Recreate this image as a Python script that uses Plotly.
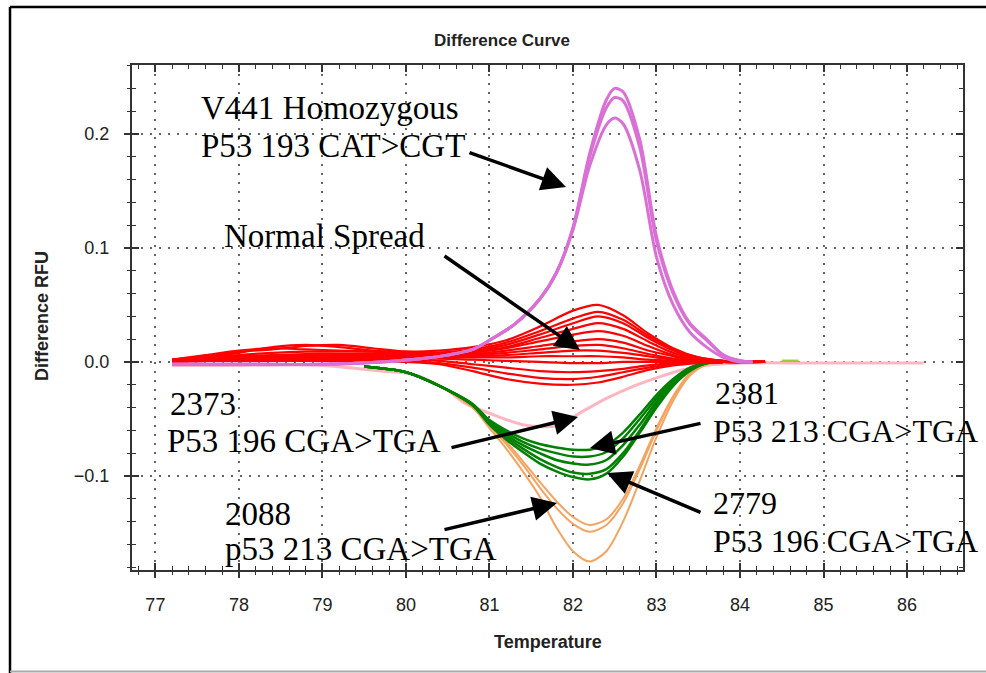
import plotly.graph_objects as go

# ---------------- data ----------------
T_RED = [77.2, 77.6, 78.0, 78.4, 78.8, 79.2, 79.6, 80.0, 80.4, 80.8, 81.2, 81.6,
         82.0, 82.3, 82.6, 82.9, 83.2, 83.5, 83.8, 84.3]
RED_1 = [0.002, 0.006, 0.010, 0.012, 0.011, 0.010, 0.009, 0.009, 0.010, 0.013, 0.019, 0.031, 0.045, 0.050, 0.041, 0.025, 0.012, 0.004, 0.001, 0.0]
RED_2 = [0.001, 0.004, 0.008, 0.013, 0.015, 0.013, 0.010, 0.008, 0.008, 0.011, 0.017, 0.027, 0.038, 0.044, 0.037, 0.023, 0.011, 0.004, 0.001, 0.0]
RED_3 = [0.002, 0.005, 0.009, 0.011, 0.014, 0.015, 0.012, 0.009, 0.008, 0.010, 0.015, 0.024, 0.034, 0.040, 0.034, 0.021, 0.010, 0.003, 0.001, 0.0]
RED_4 = [0.001, 0.003, 0.006, 0.008, 0.009, 0.009, 0.009, 0.008, 0.008, 0.009, 0.013, 0.021, 0.029, 0.034, 0.029, 0.018, 0.008, 0.003, 0.0, 0.0]
RED_5 = [0.002, 0.004, 0.005, 0.006, 0.007, 0.007, 0.007, 0.007, 0.007, 0.008, 0.012, 0.018, 0.024, 0.027, 0.023, 0.014, 0.006, 0.002, 0.0, 0.0]
RED_6 = [0.001, 0.002, 0.004, 0.005, 0.006, 0.006, 0.006, 0.006, 0.006, 0.007, 0.010, 0.014, 0.018, 0.020, 0.017, 0.010, 0.005, 0.001, 0.0, 0.0]
RED_7 = [0.001, 0.002, 0.003, 0.004, 0.005, 0.005, 0.005, 0.005, 0.006, 0.006, 0.008, 0.011, 0.014, 0.015, 0.012, 0.007, 0.003, 0.001, 0.0, 0.0]
RED_8 = [0.001, 0.002, 0.003, 0.003, 0.004, 0.004, 0.004, 0.005, 0.005, 0.005, 0.006, 0.008, 0.010, 0.010, 0.008, 0.005, 0.002, 0.001, 0.0, 0.0]
RED_9 = [0.001, 0.001, 0.002, 0.002, 0.003, 0.003, 0.003, 0.004, 0.004, 0.004, 0.004, 0.005, 0.005, 0.005, 0.004, 0.002, 0.001, 0.0, 0.0, 0.0]
RED_10 = [0.001, 0.001, 0.001, 0.002, 0.002, 0.002, 0.002, 0.003, 0.003, 0.002, 0.001, 0.000, -0.001, -0.001, 0.0, 0.0, 0.0, 0.0, 0.0, 0.0]
RED_11 = [0.0, 0.001, 0.001, 0.001, 0.002, 0.002, 0.002, 0.002, 0.001, -0.002, -0.005, -0.008, -0.009, -0.008, -0.006, -0.003, -0.001, 0.0, 0.0, 0.0]
RED_12 = [0.001, 0.001, 0.002, 0.002, 0.002, 0.002, 0.002, 0.001, -0.001, -0.005, -0.010, -0.014, -0.015, -0.013, -0.009, -0.005, -0.002, 0.0, 0.0, 0.0]
RED_13 = [0.0, 0.001, 0.001, 0.001, 0.001, 0.001, 0.001, 0.0, -0.002, -0.008, -0.015, -0.019, -0.020, -0.018, -0.013, -0.007, -0.003, -0.001, 0.0, 0.0]

T_PURPLE = [77.2, 78.0, 79.0, 79.7, 80.2, 80.5, 80.8, 81.0, 81.3, 81.6, 81.8, 82.0,
            82.2, 82.4, 82.5, 82.6, 82.8, 83.0, 83.2, 83.4, 83.6, 83.8, 84.0, 84.15]
PURPLE_1 = [-0.002, -0.002, -0.002, 0.0, 0.003, 0.006, 0.011, 0.019, 0.033, 0.055, 0.078, 0.118, 0.183, 0.230, 0.240, 0.237, 0.195, 0.110, 0.062, 0.034, 0.020, 0.006, 0.001, 0.0]
PURPLE_2 = [-0.002, -0.002, -0.002, 0.0, 0.003, 0.006, 0.011, 0.019, 0.033, 0.055, 0.078, 0.117, 0.180, 0.223, 0.232, 0.229, 0.188, 0.106, 0.060, 0.033, 0.019, 0.006, 0.001, 0.0]
PURPLE_3 = [-0.002, -0.002, -0.002, 0.0, 0.003, 0.006, 0.011, 0.019, 0.033, 0.055, 0.078, 0.116, 0.172, 0.208, 0.214, 0.209, 0.168, 0.092, 0.050, 0.026, 0.013, 0.004, 0.0, 0.0]

T_NEG = [79.5, 80.0, 80.4, 80.8, 81.0, 81.2, 81.4, 81.6, 81.8, 82.0, 82.2, 82.4,
         82.6, 82.8, 83.0, 83.2, 83.4, 83.6, 83.8]
GREEN_1 = [-0.004, -0.009, -0.021, -0.038, -0.055, -0.068, -0.079, -0.089, -0.096, -0.101, -0.103, -0.098, -0.083, -0.062, -0.040, -0.021, -0.008, -0.001, 0.0]
GREEN_2 = [-0.004, -0.009, -0.021, -0.038, -0.054, -0.066, -0.076, -0.085, -0.092, -0.097, -0.098, -0.094, -0.080, -0.060, -0.038, -0.020, -0.007, -0.001, 0.0]
GREEN_3 = [-0.004, -0.009, -0.021, -0.038, -0.053, -0.064, -0.073, -0.080, -0.086, -0.089, -0.090, -0.086, -0.073, -0.055, -0.035, -0.018, -0.007, -0.001, 0.0]
GREEN_4 = [-0.004, -0.009, -0.021, -0.037, -0.052, -0.062, -0.070, -0.076, -0.080, -0.083, -0.083, -0.079, -0.067, -0.050, -0.032, -0.016, -0.006, -0.001, 0.0]
GREEN_5 = [-0.004, -0.009, -0.021, -0.037, -0.051, -0.060, -0.067, -0.072, -0.075, -0.077, -0.077, -0.073, -0.062, -0.046, -0.029, -0.015, -0.005, -0.001, 0.0]

ORANGE_1 = [-0.004, -0.009, -0.021, -0.040, -0.058, -0.076, -0.096, -0.118, -0.145, -0.166, -0.175, -0.166, -0.140, -0.104, -0.066, -0.034, -0.012, -0.002, 0.0]
ORANGE_2 = [-0.004, -0.009, -0.021, -0.040, -0.056, -0.072, -0.090, -0.110, -0.128, -0.142, -0.149, -0.143, -0.124, -0.094, -0.060, -0.031, -0.011, -0.002, 0.0]
ORANGE_3 = [-0.004, -0.009, -0.021, -0.040, -0.055, -0.070, -0.087, -0.105, -0.122, -0.136, -0.143, -0.138, -0.120, -0.091, -0.058, -0.030, -0.010, -0.002, 0.0]

T_PINK = [77.2, 78.0, 79.0, 79.7, 80.1, 80.5, 80.7, 81.0, 81.4, 81.8, 82.1, 82.4,
          82.7, 83.0, 83.3, 83.6, 84.0, 85.0, 86.2]
PINK = [-0.003, -0.003, -0.003, -0.008, -0.011, -0.025, -0.036, -0.045, -0.055, -0.056, -0.044, -0.032, -0.022, -0.014, -0.007, -0.003, -0.001, -0.001, -0.001]

T_LIME_A = [77.3, 78.0, 78.6, 79.2]
LIME_A = [0.002, 0.002, 0.002, 0.002]
T_LIME_B = [84.5, 84.7]
LIME_B = [0.001, 0.001]

X_TICKS = [77, 78, 79, 80, 81, 82, 83, 84, 85, 86]
Y_TICKS = [-0.1, 0.0, 0.1, 0.2]
X_RANGE = [76.72, 86.67]
Y_RANGE = [-0.1825, 0.2605]

# ---------------- figure ----------------
W, H = 986, 673
ML, MR, MT, MB = 132, 23, 65, 103
PW, PH = W - ML - MR, H - MT - MB


def px_x(px):
    return (px - ML) / PW


def px_y(py):
    return (H - MB - py) / PH


def dx(px):
    return X_RANGE[0] + (px - ML) / PW * (X_RANGE[1] - X_RANGE[0])


def dy(py):
    return Y_RANGE[0] + (H - MB - py) / PH * (Y_RANGE[1] - Y_RANGE[0])


fig = go.Figure()


def add(x, y, color, width):
    fig.add_trace(go.Scatter(x=x, y=y, mode="lines", hoverinfo="skip", showlegend=False,
                             line=dict(color=color, width=width, shape="spline", smoothing=0.8)))


add(T_PINK, PINK, "#FFB6C1", 3)
for s in [ORANGE_1, ORANGE_2, ORANGE_3]:
    add(T_NEG, s, "#F4A460", 2)
for s in [GREEN_1, GREEN_2, GREEN_3, GREEN_4, GREEN_5]:
    add(T_NEG, s, "#008000", 2.5)
add(T_LIME_A, LIME_A, "#9ACD32", 2.5)
add(T_LIME_B, LIME_B, "#9ACD32", 2.5)
for s in [RED_1, RED_2, RED_3, RED_4, RED_5, RED_6, RED_7, RED_8, RED_9, RED_10, RED_11, RED_12, RED_13]:
    add(T_RED, s, "#FF0000", 2.2)
for s in [PURPLE_1, PURPLE_2, PURPLE_3]:
    add(T_PURPLE, s, "#DA70D6", 3)

# dummy trace for the overlay axes (outside tick halves)
fig.add_trace(go.Scatter(x=[None], y=[None], xaxis="x2", yaxis="y2", showlegend=False, hoverinfo="skip"))

AX = "#333333"
TICKFONT = dict(family="Liberation Sans Narrow, Arial Narrow, Liberation Sans, Arial", size=18, color="#222222")
GRID = dict(showgrid=True, gridcolor="#666666", gridwidth=1.5, griddash="1.5px,7.5px")

fig.update_layout(
    width=W, height=H,
    margin=dict(l=ML, r=MR, t=MT, b=MB),
    paper_bgcolor="white", plot_bgcolor="white",
    showlegend=False,
    title=dict(text="Difference Curve", x=502 / W, xanchor="center", xref="container",
               y=1 - 40 / H, yanchor="middle", yref="container",
               font=dict(family="Liberation Sans Narrow, Arial Narrow, Liberation Sans, Arial",
                         size=17, color="#222222", weight="bold")),
    xaxis=dict(range=X_RANGE, tickvals=X_TICKS, ticks="inside", ticklen=7, tickwidth=1.5,
               tickcolor=AX, showline=True, linecolor=AX, linewidth=2, mirror="allticks",
               zeroline=False, tickfont=TICKFONT, ticklabelstandoff=17,
               minor=dict(dtick=0.2, tick0=77, ticks="inside", ticklen=4, tickwidth=1.2,
                          tickcolor=AX, showgrid=False),
               **GRID),
    yaxis=dict(range=Y_RANGE, tickvals=Y_TICKS, tickformat=".1f", ticks="inside", ticklen=7,
               tickwidth=1.5, tickcolor=AX, showline=True, linecolor=AX, linewidth=2,
               mirror="allticks", zeroline=False, tickfont=TICKFONT, ticklabelstandoff=17,
               minor=dict(dtick=0.02, tick0=0, ticks="inside", ticklen=4, tickwidth=1.2,
                          tickcolor=AX, showgrid=False),
               **GRID),
    xaxis2=dict(overlaying="x", matches="x", anchor="y", side="bottom", ticks="outside",
                ticklen=7, tickwidth=1.5, tickcolor=AX, tickvals=X_TICKS, showticklabels=False,
                showline=False, showgrid=False, zeroline=False,
                minor=dict(dtick=0.2, tick0=77, ticks="outside", ticklen=4, tickwidth=1.2,
                           tickcolor=AX, showgrid=False)),
    yaxis2=dict(overlaying="y", matches="y", anchor="x", side="left", ticks="outside",
                ticklen=7, tickwidth=1.5, tickcolor=AX, tickvals=Y_TICKS, showticklabels=False,
                showline=False, showgrid=False, zeroline=False,
                minor=dict(dtick=0.02, tick0=0, ticks="outside", ticklen=4, tickwidth=1.2,
                           tickcolor=AX, showgrid=False)),
)

# axis titles
AXTITLE = dict(family="Liberation Sans Narrow, Arial Narrow, Liberation Sans, Arial", size=18,
               color="#222222", weight="bold")
fig.add_annotation(text="Temperature", xref="paper", yref="paper", x=px_x(548), y=px_y(642),
                   xanchor="center", yanchor="middle", showarrow=False, font=AXTITLE)
fig.add_annotation(text="Difference RFU", xref="paper", yref="paper", x=px_x(42), y=px_y(316),
                   xanchor="center", yanchor="middle", showarrow=False, textangle=-90, font=AXTITLE)

# text labels (text, left px, centre px, font size)
LABELS = [
    ("V441 Homozygous", 199, 108, 33),
    ("P53 193 CAT>CGT", 199, 146, 33),
    ("Normal Spread", 222, 236, 33),
    ("2373", 168, 404, 33),
    ("P53 196 CGA>TGA", 165, 441, 33),
    ("2381", 713, 393, 32),
    ("P53 213 CGA>TGA", 711, 431, 32),
    ("2779", 711, 503, 32),
    ("P53 196 CGA>TGA", 711, 541, 32),
    ("2088", 223, 514, 33),
    ("p53 213 CGA>TGA", 223, 549, 33),
]
for txt, lx, ly, fs in LABELS:
    fig.add_annotation(text=txt, xref="paper", yref="paper", x=px_x(lx), y=px_y(ly),
                       xanchor="left", yanchor="middle", showarrow=False,
                       font=dict(family="Liberation Serif, Times New Roman, serif", size=fs, color="black"))

# arrows (tail px -> head px)
ARROWS = [
    ((468, 152), (566, 187)),
    ((443, 255), (580, 350)),
    ((450, 448), (578, 417)),
    ((702, 423), (590, 448)),
    ((702, 513), (607, 473)),
    ((443, 530), (557, 503)),
]
for (tx, ty), (hx, hy) in ARROWS:
    fig.add_annotation(text="", x=dx(hx), y=dy(hy), ax=dx(tx), ay=dy(ty), xref="x", yref="y",
                       axref="x", ayref="y", showarrow=True, arrowhead=2, arrowsize=1.4,
                       arrowwidth=3.5, arrowcolor="black", standoff=0)

# outer frame
fig.add_shape(type="line", xref="paper", yref="paper", x0=px_x(10), x1=px_x(10),
              y0=px_y(7), y1=px_y(673), line=dict(color="black", width=2.5))
fig.add_shape(type="line", xref="paper", yref="paper", x0=px_x(10), x1=px_x(986),
              y0=px_y(7), y1=px_y(7), line=dict(color="black", width=2.5))
fig.add_shape(type="line", xref="paper", yref="paper", x0=px_x(10), x1=px_x(986),
              y0=px_y(671.5), y1=px_y(671.5), line=dict(color="#aaaaaa", width=2))

fig.write_html("out.html")
